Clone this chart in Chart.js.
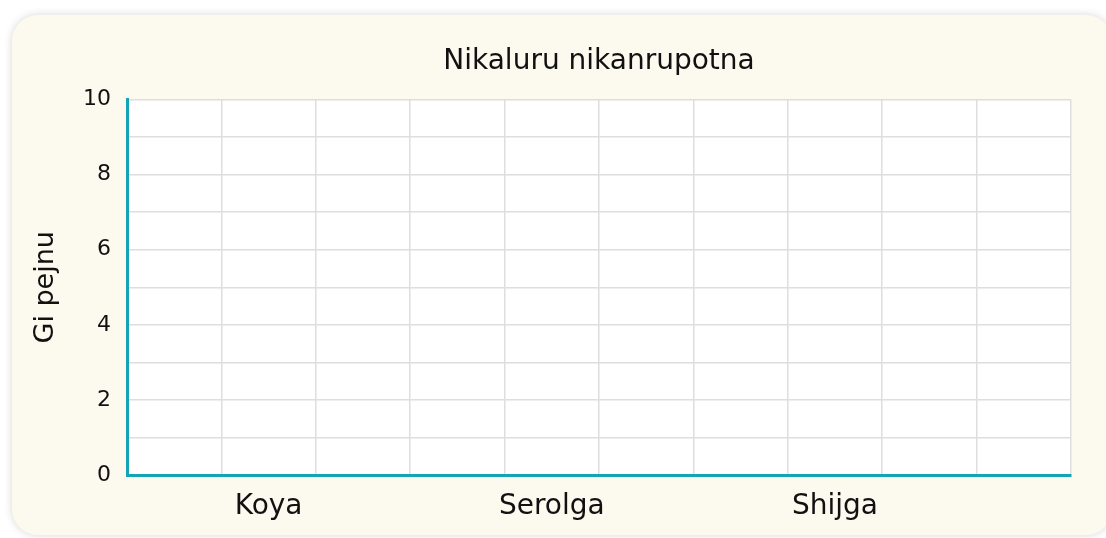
<!DOCTYPE html>
<html>
<head>
<meta charset="utf-8">
<script src="https://cdn.jsdelivr.net/npm/chart.js@4/dist/chart.umd.min.js"></script>
<style>
  html, body { margin: 0; padding: 0; width: 1106px; height: 538px; overflow: hidden; background: #ffffff; }
  .card {
    position: absolute; left: 12px; top: 15px; width: 1100px; height: 520px;
    background: #fcfaef; border-radius: 26px;
    box-shadow: 0 0 9px rgba(0, 0, 0, 0.16);
  }
  .wrap { position: absolute; left: 12px; top: 15px; width: 1094px; height: 520px; }
</style>
</head>
<body>
<div class="card"></div>
<div class="wrap"><canvas id="c"></canvas></div>
<script>
// Category slots along the x axis (blank slots keep the grid spacing)
const xLabels = ['', 'Koya', '', '', 'Serolga', '', '', 'Shijga', '', ''];
// Bar values per slot
const values = [null, 0, null, null, 0, null, null, 0, null, null];
// Value axis range
const yMin = 0;
const yMax = 10;

const FONT = "'DejaVu Sans', sans-serif";
const TEAL = '#13a5b5';
const GRID = '#dedede';

// White fill behind the plotting area
const plotBackground = {
  id: 'plotBackground',
  beforeDraw(chart) {
    const { ctx, chartArea: a } = chart;
    ctx.save();
    ctx.fillStyle = '#ffffff';
    ctx.fillRect(a.left, a.top, a.right - a.left, a.bottom - a.top);
    ctx.restore();
  }
};

new Chart(document.getElementById('c'), {
  type: 'bar',
  data: {
    labels: xLabels,
    datasets: [{ label: 'Gi pejnu', data: values, backgroundColor: TEAL, borderWidth: 0 }]
  },
  options: {
    responsive: true,
    maintainAspectRatio: false,
    animation: false,
    layout: { padding: { left: 15, right: 35, top: 0, bottom: 0 } },
    plugins: {
      legend: { display: false },
      tooltip: { enabled: false },
      title: {
        display: true,
        text: 'Nikaluru nikanrupotna',
        fullSize: false,
        color: '#111111',
        font: { family: FONT, size: 28, weight: 'normal' },
        padding: { top: 30, bottom: 21 }
      }
    },
    scales: {
      x: {
        afterFit(scale) { scale.height = 60; },
        border: { display: true, color: TEAL, width: 3 },
        grid: { color: GRID, lineWidth: 1.5, drawTicks: false },
        ticks: {
          autoSkip: false,
          maxRotation: 0,
          padding: 15,
          color: '#111111',
          font: { family: FONT, size: 28 }
        }
      },
      y: {
        min: yMin,
        max: yMax,
        afterFit(scale) { scale.width = 100; },
        border: { display: true, color: TEAL, width: 3 },
        grid: { color: GRID, lineWidth: 1.5, drawTicks: false },
        title: {
          display: true,
          text: 'Gi pejnu',
          color: '#111111',
          font: { family: FONT, size: 27 },
          padding: { top: 3, bottom: 0 }
        },
        ticks: {
          stepSize: 1,
          padding: 16,
          color: '#111111',
          font: { family: FONT, size: 22 },
          callback: (v) => (v % 2 === 0 ? v : '')
        }
      }
    }
  },
  plugins: [plotBackground]
});
</script>
</body>
</html>
